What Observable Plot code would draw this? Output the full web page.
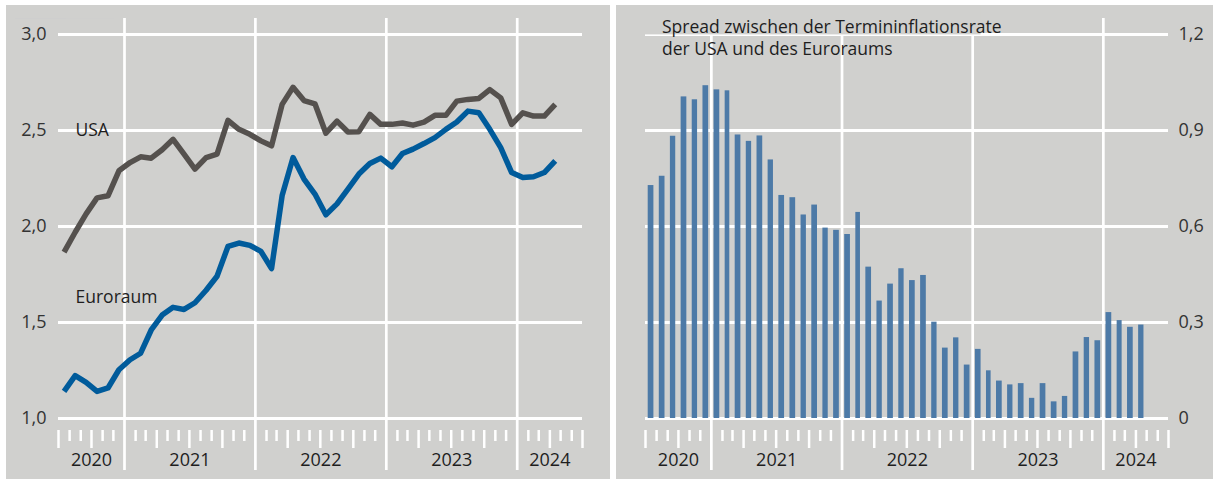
<!DOCTYPE html>
<html><head><meta charset="utf-8">
<script src="https://cdn.jsdelivr.net/npm/d3@7"></script>
<script src="https://cdn.jsdelivr.net/npm/@observablehq/plot@0.6"></script>
<style>
html,body{margin:0;padding:0;background:#fff;}
#wrap{position:relative;width:1213px;height:479px;overflow:hidden;background:#fff;}
#left{position:absolute;left:6px;top:5px;width:604px;height:474px;}
#right{position:absolute;left:616px;top:5px;width:597px;height:474px;}
svg{display:block;}
</style></head>
<body><div id="wrap"><div id="left"></div><div id="right"></div></div>
<script>
// ---- data ----
const months = ["2020-07","2020-08","2020-09","2020-10","2020-11","2020-12",
  "2021-01","2021-02","2021-03","2021-04","2021-05","2021-06","2021-07","2021-08","2021-09","2021-10","2021-11","2021-12",
  "2022-01","2022-02","2022-03","2022-04","2022-05","2022-06","2022-07","2022-08","2022-09","2022-10","2022-11","2022-12",
  "2023-01","2023-02","2023-03","2023-04","2023-05","2023-06","2023-07","2023-08","2023-09","2023-10","2023-11","2023-12",
  "2024-01","2024-02","2024-03","2024-04"];
const usa = [1.867,1.970,2.066,2.149,2.160,2.290,
  2.333,2.363,2.356,2.400,2.454,2.377,2.299,2.359,2.377,2.553,2.506,2.480,
  2.446,2.420,2.636,2.725,2.656,2.639,2.486,2.549,2.492,2.494,2.584,2.532,
  2.532,2.539,2.528,2.544,2.579,2.579,2.653,2.662,2.667,2.713,2.670,2.532,
  2.592,2.575,2.575,2.636];
const euro = [1.141,1.223,1.188,1.141,1.159,1.254,
  1.306,1.340,1.461,1.539,1.579,1.568,1.603,1.668,1.741,1.896,1.914,1.902,
  1.870,1.781,2.161,2.359,2.247,2.169,2.061,2.118,2.195,2.273,2.328,2.356,
  2.311,2.380,2.403,2.432,2.463,2.506,2.544,2.601,2.592,2.506,2.411,2.281,
  2.255,2.259,2.281,2.342];
const spread = [0.728,0.757,0.882,1.005,0.996,1.040,
  1.027,1.024,0.886,0.866,0.883,0.808,0.697,0.690,0.636,0.667,0.595,0.588,
  0.575,0.644,0.473,0.367,0.420,0.468,0.431,0.447,0.301,0.220,0.252,0.167,
  0.216,0.149,0.117,0.105,0.109,0.063,0.109,0.052,0.069,0.208,0.253,0.243,
  0.331,0.306,0.285,0.292];
const leftTicks = [1, 1.5, 2, 2.5, 3];
const rightTicks = [0, 0.3, 0.6, 0.9, 1.2];
const years = ["2020","2021","2022","2023","2024"];
const seriesNames = ["USA", "Euroraum"];
const title = "Spread zwischen der Termininflationsrate\nder USA und des Euroraums";
const axisStart = "2020-07", axisEnd = "2024-07";

// ---- helpers ----
const BG = "#d0d0ce";
const TXT = "#1e1e1e";
const FONT = "'Open Sans', 'Noto Sans', sans-serif";
const parse = d3.utcParse("%Y-%m");
const x0 = parse(axisStart), x1 = parse(axisEnd);
const rows = months.map((m, i) => {
  const a = parse(m), b = d3.utcMonth.offset(a, 1);
  return {start: a, end: b, mid: new Date((+a + +b) / 2), usa: usa[i], euro: euro[i], spread: spread[i]};
});
const allMonths = d3.utcMonth.range(x0, d3.utcMonth.offset(x1, 1));
const yearLines = allMonths.filter(d => d.getUTCMonth() === 0);
const tallTicks = allMonths.filter(d => d.getUTCMonth() % 3 === 0 && d.getUTCMonth() !== 0);
const shortTicks = allMonths.filter(d => d.getUTCMonth() % 3 !== 0);
const yearPos = years.map(y => {
  const a = new Date(Math.max(+x0, Date.UTC(+y, 0, 1)));
  const b = new Date(Math.min(+x1, Date.UTC(+y + 1, 0, 1)));
  return {label: y, mid: new Date((+a + +b) / 2)};
});
const fmt = d => d === 0 ? "0" : d3.format(".1f")(d).replace(".", ",");

function scaffold(yTicks) {
  return [
    Plot.ruleY(yTicks, {stroke: "white", strokeWidth: 3}),
    Plot.ruleX(yearLines, {stroke: "white", strokeWidth: 2.7, insetTop: -16, insetBottom: -52}),
    Plot.ruleX(shortTicks, {stroke: "white", strokeWidth: 2.5, insetTop: 396, insetBottom: -23}),
    Plot.ruleX(tallTicks, {stroke: "white", strokeWidth: 2.5, insetTop: 396, insetBottom: -30}),
    Plot.text(yearPos, {x: "mid", text: "label", frameAnchor: "bottom", dy: 47, fontSize: 18, fill: TXT})
  ];
}

function addBoxes(svg, labels, padX, padY) {
  const targets = labels.map(s => s.replace(/\n/g, ""));
  svg.querySelectorAll("text").forEach(t => {
    if (targets.includes(t.textContent)) {
      const bb = t.getBBox();
      const r = document.createElementNS("http://www.w3.org/2000/svg", "rect");
      r.setAttribute("x", bb.x - padX);
      r.setAttribute("y", bb.y - padY);
      r.setAttribute("width", bb.width + 2 * padX);
      r.setAttribute("height", bb.height + 2 * padY);
      r.setAttribute("fill", BG);
      t.parentNode.insertBefore(r, t);
    }
  });
}

// ---- left panel ----
const left = Plot.plot({
  width: 604, height: 474,
  marginTop: 29, marginBottom: 61, marginLeft: 52, marginRight: 28,
  style: {background: BG, fontFamily: FONT, fontSize: "18px", color: TXT},
  x: {type: "utc", domain: [x0, x1], axis: null},
  y: {domain: [1, 3], axis: null},
  marks: [
    ...scaffold(leftTicks),
    Plot.text(leftTicks, {y: d => d, text: fmt, frameAnchor: "left", dx: -12, textAnchor: "end", fontSize: 18, fill: "#333"}),
    Plot.text([seriesNames[0]], {y: [2.5], frameAnchor: "left", dx: 17, textAnchor: "start", fontSize: 17.5, fontWeight: 500, fill: TXT}),
    Plot.text([seriesNames[1]], {y: [1.63], frameAnchor: "left", dx: 17, textAnchor: "start", fontSize: 17.5, fontWeight: 500, fill: TXT}),
    Plot.line(rows, {x: "mid", y: "usa", stroke: "#55514e", strokeWidth: 5.5, strokeLinecap: "butt", strokeLinejoin: "round"}),
    Plot.line(rows, {x: "mid", y: "euro", stroke: "#005b9b", strokeWidth: 5.5, strokeLinecap: "butt", strokeLinejoin: "round"})
  ]
});
document.getElementById("left").appendChild(left);
addBoxes(left, seriesNames, 9, 2);

// ---- right panel ----
const right = Plot.plot({
  width: 597, height: 474,
  marginTop: 29, marginBottom: 61, marginLeft: 29, marginRight: 45,
  style: {background: BG, fontFamily: FONT, fontSize: "18px", color: TXT},
  x: {type: "utc", domain: [x0, x1], axis: null},
  y: {domain: [0, 1.2], axis: null},
  marks: [
    ...scaffold(rightTicks),
    Plot.text(rightTicks, {y: d => d, text: fmt, frameAnchor: "right", dx: 10, textAnchor: "start", fontSize: 18, fill: "#333"}),
    Plot.rectY(rows, {x1: "start", x2: "end", y: "spread", fill: "#4d7aa7", insetLeft: 2.7, insetRight: 2.7}),
    Plot.text([title], {frameAnchor: "top-left", dx: 16.5, dy: -17.4, textAnchor: "start", lineAnchor: "top", lineHeight: 1.28, fontSize: 17.5, fontWeight: 500, fill: TXT})
  ]
});
document.getElementById("right").appendChild(right);
addBoxes(right, [title], 8, 3);
</script>
</body></html>
